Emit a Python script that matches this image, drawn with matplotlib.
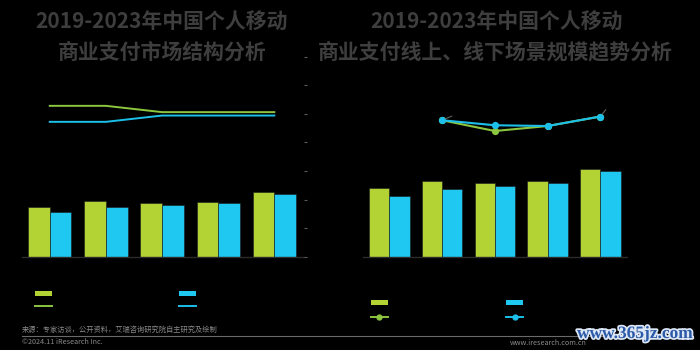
import numpy as np
import matplotlib
matplotlib.use('Agg')
import matplotlib.pyplot as plt
import matplotlib.patheffects as pe
from matplotlib.lines import Line2D
from matplotlib.patches import Patch

plt.rcParams['font.family'] = ['Noto Sans CJK SC', 'DejaVu Sans']

# Data (units are not shown in the reference)
years = ['2019', '2020', '2021', '2022', '2023']

# left chart: scale of online / offline payments and their shares (%)
struct_online = [174, 194, 187, 193, 225]
struct_offline = [157, 174, 181, 187, 219]
share_online = [52.8, 52.8, 50.6, 50.6, 50.6]
share_offline = [47.2, 47.2, 49.4, 49.4, 49.4]

# right chart: online / offline scene scale and growth rates (%)
scene_online = [34.4, 38.2, 36.9, 37.9, 44.0]
scene_offline = [30.7, 34.2, 35.5, 36.9, 43.0]
growth_years = ['2020', '2021', '2022', '2023']
growth_online = [4.7, 0.4, 2.4, 6.2]
growth_offline = [4.7, 2.7, 2.4, 6.2]

GREEN = '#b3d234'
BLUE = '#1ec8f0'
GREEN_LINE = '#8cc63f'
BLUE_LINE = '#1cbfe9'
TITLE_C = '#3e3e3e'
BG = 'black'

fig = plt.figure(figsize=(7, 3.5), dpi=100, facecolor=BG)

x = np.arange(len(years))
w = 0.385


def style_axes(ax):
    ax.set_facecolor('none')
    for s in ['top', 'left', 'right']:
        ax.spines[s].set_visible(False)
    ax.spines['bottom'].set_color('#2c2c2c')
    ax.spines['bottom'].set_linewidth(1.0)
    ax.set_xticks([])
    ax.set_yticks([])


# ---- left chart ----
ax1 = fig.add_axes([0.031, 0.2666, 0.4026, 0.5714])
style_axes(ax1)
ax1.bar(x - w / 2, struct_online, w, color=GREEN, edgecolor='#1a1a1a', linewidth=0.4)
ax1.bar(x + w / 2, struct_offline, w, color=BLUE, edgecolor='#1a1a1a', linewidth=0.4)
ax1.set_xlim(-0.5, 4.52)
ax1.set_ylim(0, 700)

ax1b = ax1.twinx()
for s in ax1b.spines.values():
    s.set_visible(False)
ax1b.plot(x, share_online, color=GREEN_LINE, lw=1.4)
ax1b.plot(x, share_offline, color=BLUE_LINE, lw=1.4)
ax1b.set_ylim(0, 70)
ax1b.set_yticks(np.arange(0, 71, 10))
ax1b.tick_params(axis='y', colors='#5a5a5a', length=2, width=0.8, labelright=False)

# ---- right chart ----
ax2 = fig.add_axes([0.5186, 0.2657, 0.3767, 0.5714])
style_axes(ax2)
ax2.bar(x - w / 2, scene_online, w, color=GREEN, edgecolor='#1a1a1a', linewidth=0.4)
ax2.bar(x + w / 2, scene_offline, w, color=BLUE, edgecolor='#1a1a1a', linewidth=0.4)
ax2.set_xlim(-0.5, 4.5)
ax2.set_ylim(0, 100)

ax2b = ax2.twinx()
for s in ax2b.spines.values():
    s.set_visible(False)
ax2b.set_yticks([])
gx = np.arange(1, len(years))
ax2b.plot(gx, growth_online, color=GREEN_LINE, lw=1.5, marker='o', ms=4.2)
ax2b.plot(gx, growth_offline, color=BLUE_LINE, lw=1.5, marker='o', ms=4.2)
ax2b.set_ylim(-50, 30)
# leader lines of the (hidden) data labels
ax2b.annotate('', xy=(gx[0], growth_offline[0]), xytext=(7, 3), textcoords='offset points',
              arrowprops=dict(arrowstyle='-', color='#606060', lw=0.8, shrinkA=0, shrinkB=2.5))
ax2b.annotate('', xy=(gx[-1], growth_offline[-1]), xytext=(4, 5), textcoords='offset points',
              arrowprops=dict(arrowstyle='-', color='#606060', lw=0.8, shrinkA=0, shrinkB=2.5))

# ---- titles ----
fig.text(0.231, 0.937, '2019-2023年中国个人移动', ha='center', va='center',
         fontsize=15, fontweight='bold', color=TITLE_C)
fig.text(0.232, 0.851, '商业支付市场结构分析', ha='center', va='center',
         fontsize=15, fontweight='bold', color=TITLE_C)
fig.text(0.709, 0.937, '2019-2023年中国个人移动', ha='center', va='center',
         fontsize=15, fontweight='bold', color=TITLE_C)
fig.text(0.708, 0.851, '商业支付线上、线下场景规模趋势分析', ha='center', va='center',
         fontsize=15, fontweight='bold', color=TITLE_C)


# ---- legends (labels are invisible in the reference) ----
def column_legend(xa, ya, bar_c, line_c, marker, spacing):
    h = [Patch(facecolor=bar_c, edgecolor='none'),
         Line2D([], [], color=line_c, lw=1.4, marker=marker, ms=3.5)]
    leg = fig.legend(h, [' ', ' '], loc='upper left', bbox_to_anchor=(xa, ya),
                     frameon=False, fontsize=7, handlelength=1.75, handleheight=0.45,
                     borderpad=0, borderaxespad=0, labelspacing=spacing, handletextpad=0.4)
    return leg


column_legend(35 / 700, 1 - 289 / 350, GREEN, GREEN_LINE, None, 0.2)
column_legend(179.3 / 700, 1 - 289 / 350, BLUE, BLUE_LINE, None, 0.2)
column_legend(370.7 / 700, 1 - 298 / 350, GREEN, GREEN_LINE, 'o', 0.38)
column_legend(506.3 / 700, 1 - 298 / 350, BLUE, BLUE_LINE, 'o', 0.38)

# ---- footer ----
fig.text(22 / 700, 1 - 330 / 350, '来源：专家访谈，公开资料，艾瑞咨询研究院自主研究及绘制',
         ha='left', va='center', fontsize=5.2, color='#8a8a8a')
fig.add_artist(Line2D([22 / 700, 690 / 700], [1 - 335.5 / 350] * 2,
                      transform=fig.transFigure, color='#6a6a6a', lw=0.8))
fig.text(22 / 700, 1 - 342.5 / 350, '©2024.11 iResearch Inc.',
         ha='left', va='center', fontsize=5.2, color='#8a8a8a')
fig.text(510 / 700, 1 - 343 / 350, 'www.iresearch.com.cn',
         ha='left', va='center', fontsize=5.2, color='#8a8a8a')
fig.text(577 / 700, 1 - 334 / 350, 'www.365jz.com', ha='left', va='center',
         fontsize=12.5, fontweight='bold', family='Liberation Serif', color='#2a5aa8',
         path_effects=[pe.withStroke(linewidth=2.5, foreground='#dce6f4')])

fig.savefig('out.png', dpi=100, facecolor=BG)
